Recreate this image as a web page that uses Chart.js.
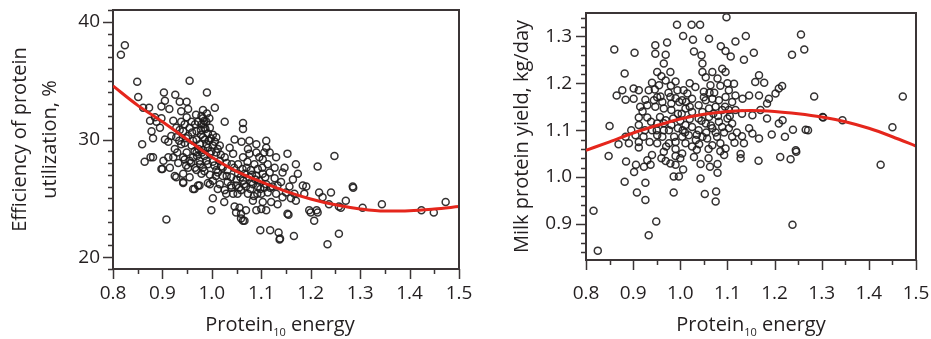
<!DOCTYPE html>
<html>
<head>
<meta charset="utf-8">
<script src="https://cdn.jsdelivr.net/npm/chart.js@4.4.1/dist/chart.umd.min.js"></script>
<style>
  html, body { margin: 0; padding: 0; background: #fff; }
  #wrap { position: relative; width: 931px; height: 339px; overflow: hidden; }
  canvas { position: absolute; top: 0; }
  #effCanvas { left: 0; }
  #yieldCanvas { left: 470px; }
</style>
</head>
<body>
<div id="wrap">
  <canvas id="effCanvas" width="480" height="339"></canvas>
  <canvas id="yieldCanvas" width="461" height="339"></canvas>
</div>
<script>
// ---- Tick values ----
const xTicks = [0.8, 0.9, 1.0, 1.1, 1.2, 1.3, 1.4, 1.5];
const effTicks = [20, 30, 40];
const yieldTicks = [0.9, 1.0, 1.1, 1.2, 1.3];

// ---- Efficiency of protein utilization (%) vs Protein10 energy ----
const effX = [
  0.824, 0.816, 0.849, 0.955, 0.851, 0.903, 0.926, 0.990, 1.006, 0.905,
  0.949, 0.935, 0.861, 0.873, 0.898, 0.914, 0.885, 0.898, 0.922, 0.938,
  0.949, 0.982, 0.985, 1.026, 1.063, 1.063, 0.878, 0.881, 0.859, 0.905,
  0.918, 0.928, 0.942, 0.952, 0.969, 0.979, 0.979, 0.989, 0.996, 1.002,
  0.969, 0.959, 0.938, 0.925, 0.922, 0.912, 0.902, 0.881, 0.864, 0.898,
  0.925, 0.942, 0.942, 0.952, 0.955, 0.966, 0.975, 0.982, 0.979, 0.972,
  0.962, 0.996, 1.009, 1.022, 1.016, 1.032, 0.996, 0.999, 0.908, 1.043,
  1.036, 1.046, 1.060, 1.076, 1.090, 1.110, 1.110, 1.090, 1.076, 1.063,
  1.053, 1.070, 1.086, 1.103, 1.113, 1.130, 1.127, 1.117, 1.103, 1.090,
  1.076, 1.063, 1.049, 1.059, 1.069, 1.093, 1.110, 1.123, 1.140, 1.143,
  1.147, 1.153, 1.170, 1.174, 1.164, 1.157, 1.160, 1.143, 1.130, 1.113,
  1.100, 1.120, 1.133, 1.110, 1.090, 1.100, 1.069, 1.046, 1.059, 1.063,
  1.049, 1.059, 1.153, 1.167, 1.184, 1.191, 1.187, 1.214, 1.248, 1.217,
  1.241, 1.224, 1.271, 1.285, 1.257, 1.237, 1.197, 1.214, 1.207, 1.257,
  1.234, 1.166, 1.098, 1.118, 1.135, 1.138, 1.002, 1.029, 1.043, 1.025,
  0.982, 0.985, 0.992, 0.982, 0.976, 0.989, 1.002, 1.009, 0.996, 0.982,
  0.969, 0.962, 0.989, 1.002, 1.016, 1.022, 1.026, 1.009, 1.016, 0.969,
  0.955, 1.032, 1.039, 1.002, 1.012, 1.026, 1.039, 1.053, 1.066, 1.079,
  1.093, 1.096, 1.083, 1.073, 1.083, 1.103, 1.133, 1.150, 1.170, 1.106,
  1.096, 1.117, 1.073, 0.942, 0.949, 0.932, 0.915, 0.912, 0.928, 0.895,
  0.888, 0.875, 0.959, 0.955, 0.966, 0.938, 0.945, 0.972, 1.286, 1.305,
  1.344, 1.424, 1.449, 1.473, 1.261, 0.876, 0.900, 0.928, 0.942, 0.965,
  0.975, 0.992, 1.200, 1.212, 1.137, 1.155, 1.056, 1.066, 0.978, 0.986,
  0.994, 0.973, 0.999, 1.005, 0.985, 1.012, 1.040, 1.058, 1.080, 1.098,
  1.118, 1.127, 1.085, 1.052, 0.962, 0.945, 0.935, 0.952, 0.968, 0.976,
  0.983, 0.990, 0.995, 0.987, 0.978, 0.998, 1.006, 0.992, 0.980, 1.012,
  1.018, 0.970, 0.958, 0.948, 0.985, 0.992, 1.008, 1.019, 1.030, 1.045,
  1.050, 1.062, 1.072, 1.081, 1.088, 1.102, 1.108, 1.065, 1.055, 1.078,
  1.092, 1.106, 1.040, 1.030, 0.960, 0.948, 0.934, 0.930, 0.945, 0.965
];
const effY = [
  38.0, 37.2, 34.9, 35.0, 33.6, 34.0, 33.8, 34.0, 32.7, 33.3,
  33.2, 33.2, 32.7, 32.7, 32.8, 32.6, 31.9, 31.8, 31.6, 32.4,
  31.9, 32.5, 31.6, 31.5, 31.4, 30.9, 30.7, 30.1, 29.6, 30.0,
  30.3, 31.0, 30.7, 30.3, 30.7, 31.3, 32.0, 31.5, 31.0, 30.4,
  30.0, 29.5, 29.6, 29.2, 28.5, 28.5, 28.2, 28.5, 28.1, 27.5,
  26.9, 27.1, 26.3, 27.6, 28.2, 27.6, 28.2, 27.6, 27.1, 26.1,
  25.8, 27.0, 27.4, 26.9, 26.2, 26.4, 26.2, 24.0, 23.2, 28.8,
  29.3, 30.0, 29.8, 29.9, 29.6, 29.9, 29.3, 28.9, 28.8, 28.5,
  27.9, 27.6, 27.9, 28.3, 27.9, 28.5, 27.6, 27.2, 27.1, 26.9,
  26.8, 26.5, 26.1, 25.7, 26.0, 26.0, 26.2, 26.0, 26.4, 27.2,
  27.6, 28.8, 27.9, 27.1, 26.6, 26.0, 25.0, 25.1, 25.4, 25.5,
  25.4, 24.7, 24.5, 24.0, 24.0, 24.1, 24.0, 24.3, 23.7, 23.1,
  23.8, 23.3, 23.7, 25.4, 26.1, 26.0, 25.4, 27.7, 28.6, 25.5,
  25.5, 25.1, 24.8, 26.0, 24.3, 24.5, 24.0, 23.8, 23.1, 22.0,
  21.1, 21.8, 22.3, 22.3, 22.1, 21.6, 25.0, 25.4, 25.4, 24.7,
  31.8, 31.0, 30.5, 30.2, 29.6, 29.6, 29.5, 28.9, 28.8, 29.1,
  28.9, 28.5, 28.2, 28.1, 28.2, 27.6, 28.5, 30.2, 29.5, 27.4,
  26.8, 27.4, 26.8, 26.5, 25.8, 25.7, 26.1, 27.1, 27.1, 27.4,
  27.5, 26.5, 26.2, 25.4, 24.8, 24.7, 26.1, 25.5, 24.8, 28.9,
  28.5, 28.9, 29.2, 28.5, 28.9, 28.0, 27.6, 29.8, 30.2, 31.0,
  31.5, 31.6, 31.5, 31.0, 31.3, 31.5, 31.3, 31.5, 25.9, 24.2,
  24.5, 24.0, 23.8, 24.7, 24.2, 28.5, 27.5, 26.8, 26.4, 25.8,
  26.1, 26.3, 23.8, 24.0, 21.5, 23.6, 24.2, 23.1, 30.8, 30.0,
  29.9, 29.2, 29.0, 27.8, 28.6, 27.2, 27.9, 26.8, 26.4, 25.8,
  25.9, 26.7, 25.2, 25.4, 29.9, 29.7, 30.8, 32.6, 32.1, 27.9,
  31.3, 32.2, 31.8, 30.9, 30.4, 30.1, 29.8, 29.3, 28.9, 29.2,
  28.7, 28.6, 28.0, 27.8, 27.3, 27.9, 26.9, 27.7, 28.0, 27.6,
  26.6, 27.5, 28.1, 27.0, 26.6, 27.6, 26.8, 26.2, 25.9, 25.8,
  25.4, 25.9, 25.9, 26.9, 30.6, 30.1, 29.9, 28.9, 28.3, 29.0
];
// Fitted response, sampled along the red curve
const effFitX = [0.80, 0.85, 0.90, 0.95, 1.00, 1.05, 1.10, 1.15, 1.20, 1.25, 1.30, 1.35, 1.40, 1.45, 1.50];
const effFitY = [34.55, 32.9, 31.5, 30.0, 28.5, 27.3, 26.4, 25.6, 24.95, 24.45, 24.1, 23.92, 23.95, 24.1, 24.3];

// ---- Milk protein yield (kg/day) vs Protein10 energy ----
const yieldX = [
  1.098, 0.993, 1.024, 1.042, 1.006, 1.027, 1.061, 1.139, 1.117, 1.086,
  1.096, 1.107, 1.156, 1.135, 1.256, 1.263, 1.237, 0.860, 0.903, 0.947,
  0.947, 0.972, 0.969, 1.029, 1.045, 1.047, 0.965, 0.951, 0.882, 0.979,
  0.990, 0.969, 0.940, 0.933, 0.877, 0.865, 0.901, 0.884, 0.926, 0.951,
  0.979, 1.007, 1.004, 1.025, 1.047, 1.054, 1.068, 1.079, 1.064, 1.050,
  1.089, 1.096, 1.114, 1.103, 1.117, 1.132, 1.167, 1.178, 1.159, 1.146,
  1.167, 1.188, 1.202, 1.209, 1.216, 1.284, 1.302, 1.266, 1.239, 1.217,
  1.209, 1.184, 1.222, 1.194, 1.245, 1.234, 1.212, 1.166, 1.135, 1.131,
  1.146, 1.153, 1.167, 1.128, 1.128, 1.110, 1.103, 1.089, 1.082, 1.068,
  1.054, 1.078, 1.085, 1.096, 1.093, 1.068, 1.057, 1.047, 1.033, 1.025,
  1.029, 1.043, 1.063, 1.079, 1.079, 1.076, 1.075, 1.043, 1.052, 1.006,
  0.997, 0.986, 0.986, 0.990, 0.979, 0.969, 0.965, 0.990, 1.004, 1.011,
  1.004, 0.990, 0.976, 0.962, 0.951, 0.940, 0.930, 0.937, 0.923, 0.906,
  0.902, 0.885, 0.882, 0.926, 0.908, 0.926, 0.949, 0.933, 0.816, 0.848,
  0.850, 0.869, 0.896, 0.912, 0.912, 0.912, 0.930, 0.905, 0.922, 0.940,
  0.951, 0.969, 0.981, 0.995, 1.011, 1.025, 1.039, 1.061, 0.981, 0.995,
  1.011, 1.025, 0.965, 0.947, 0.930, 0.944, 0.962, 0.981, 1.039, 1.054,
  1.068, 1.082, 1.096, 1.110, 1.117, 1.103, 1.089, 1.075, 1.061, 1.047,
  1.100, 1.110, 1.131, 1.153, 1.170, 1.184, 0.884, 0.891, 0.912, 0.976,
  0.987, 1.018, 0.965, 0.951, 1.039, 1.015, 1.032, 0.994, 0.912, 0.901,
  0.946, 0.955, 1.472, 1.450, 1.425, 1.344, 1.303, 1.271, 1.238, 0.825,
  1.246, 1.000, 1.020, 0.957, 1.070, 1.093, 1.115, 1.060, 1.005, 0.975,
  1.062, 0.920, 0.938, 1.035, 0.998, 0.965, 0.985, 1.003, 1.020, 1.045,
  1.065, 1.080, 1.095, 1.075, 1.055, 1.035, 1.010, 0.990, 0.970, 0.950,
  0.935, 0.925, 0.915, 0.958, 0.990, 1.012, 1.050, 1.072, 1.105, 1.120,
  1.085, 1.060, 1.040, 1.000, 0.960, 1.100, 1.085, 0.980, 0.960, 1.020
];
const yieldY = [
  1.341, 1.325, 1.325, 1.325, 1.301, 1.293, 1.295, 1.301, 1.289, 1.279,
  1.269, 1.257, 1.265, 1.250, 1.304, 1.272, 1.261, 1.272, 1.265, 1.281,
  1.263, 1.287, 1.261, 1.268, 1.260, 1.242, 1.242, 1.224, 1.221, 1.224,
  1.204, 1.206, 1.201, 1.185, 1.185, 1.174, 1.167, 1.165, 1.165, 1.170,
  1.171, 1.185, 1.164, 1.167, 1.224, 1.213, 1.224, 1.210, 1.196, 1.182,
  1.231, 1.224, 1.199, 1.185, 1.174, 1.167, 1.217, 1.201, 1.203, 1.174,
  1.174, 1.167, 1.178, 1.189, 1.194, 1.172, 1.128, 1.101, 1.101, 1.121,
  1.114, 1.125, 1.086, 1.091, 1.057, 1.038, 1.043, 1.035, 1.072, 1.087,
  1.104, 1.093, 1.082, 1.049, 1.040, 1.086, 1.104, 1.107, 1.118, 1.104,
  1.114, 1.086, 1.072, 1.061, 1.047, 1.068, 1.082, 1.086, 1.079, 1.065,
  1.043, 1.028, 1.022, 1.028, 1.009, 0.969, 0.948, 0.997, 0.964, 1.016,
  1.001, 1.001, 0.967, 1.026, 1.029, 1.034, 1.054, 1.045, 1.050, 1.072,
  1.086, 1.075, 1.072, 1.086, 1.072, 1.047, 1.036, 1.026, 1.022, 1.026,
  1.011, 1.033, 0.990, 0.988, 0.967, 0.951, 0.905, 0.876, 0.928, 1.045,
  1.109, 1.070, 1.100, 1.127, 1.111, 1.063, 1.127, 1.089, 1.086, 1.100,
  1.114, 1.121, 1.111, 1.104, 1.111, 1.107, 1.125, 1.128, 1.143, 1.135,
  1.146, 1.139, 1.146, 1.150, 1.153, 1.164, 1.160, 1.157, 1.153, 1.164,
  1.167, 1.164, 1.171, 1.160, 1.143, 1.143, 1.143, 1.150, 1.146, 1.139,
  1.125, 1.114, 1.135, 1.132, 1.143, 1.157, 1.086, 1.072, 1.075, 1.100,
  1.086, 1.089, 1.100, 1.089, 1.100, 1.178, 1.192, 1.185, 1.185, 1.189,
  1.187, 1.196, 1.172, 1.106, 1.026, 1.121, 1.127, 1.100, 0.898, 0.843,
  1.054, 1.120, 1.124, 1.128, 1.135, 1.095, 1.073, 1.060, 1.100, 1.180,
  1.180, 1.140, 1.118, 1.058, 1.160, 1.115, 1.125, 1.135, 1.150, 1.120,
  1.110, 1.130, 1.150, 1.095, 1.095, 1.090, 1.095, 1.060, 1.065, 1.100,
  1.075, 1.100, 1.150, 1.172, 1.168, 1.160, 1.170, 1.180, 1.130, 1.095,
  1.055, 1.040, 1.070, 1.040, 1.040, 1.200, 1.195, 1.195, 1.215, 1.200
];
const yieldFitX = [0.80, 0.85, 0.90, 0.95, 1.00, 1.05, 1.10, 1.15, 1.20, 1.25, 1.30, 1.35, 1.40, 1.45, 1.50];
const yieldFitY = [1.057, 1.075, 1.094, 1.110, 1.124, 1.134, 1.140, 1.142, 1.140, 1.135, 1.128, 1.118, 1.104, 1.086, 1.066];

// ---- Shared styling ----
const FONT = '"Open Sans", "Noto Sans", sans-serif';
const TEXT = '#231f20';
const AXIS = '#3b3536';
const POINT = 'rgba(30,28,28,0.9)';
const FIT = '#e5261c';

const pairs = (xs, ys) => xs.map((x, i) => ({ x, y: ys[i] }));

// Frame, tick marks and the subscripted x-axis title
const panelDecor = {
  id: 'panelDecor',
  afterDraw(chart, args, o) {
    const { ctx, chartArea: a } = chart;
    const xs = chart.scales.x, ys = chart.scales.y;
    ctx.save();
    ctx.strokeStyle = AXIS;
    ctx.lineWidth = 2;
    ctx.beginPath();
    ctx.moveTo(a.left, a.top);
    ctx.lineTo(a.right, a.top);
    ctx.lineTo(a.right, a.bottom);
    ctx.stroke();

    ctx.lineWidth = 1.5;
    ctx.beginPath();
    const xTick = (v, len) => {
      const p = Math.round(xs.getPixelForValue(v)) + 0.5;
      ctx.moveTo(p, a.bottom); ctx.lineTo(p, a.bottom + len);
    };
    const yTick = (v, len) => {
      const p = Math.round(ys.getPixelForValue(v)) + 0.5;
      ctx.moveTo(a.left, p); ctx.lineTo(a.left - len, p);
    };
    const minors = (scale, step) => {
      const out = [];
      for (let n = Math.ceil(scale.min / step - 1e-6); n * step <= scale.max + 1e-9; n++) out.push(n * step);
      return out;
    };
    minors(xs, o.xMinor).forEach(v => xTick(v, 5));
    minors(ys, o.yMinor).forEach(v => yTick(v, 5));
    o.xMajor.forEach(v => xTick(v, 10));
    o.yMajor.forEach(v => yTick(v, 10));
    ctx.stroke();

    // "Protein10 energy" with the 10 set as a subscript
    const big = '20px ' + FONT, small = '11px ' + FONT;
    ctx.fillStyle = TEXT;
    ctx.textBaseline = 'alphabetic';
    ctx.textAlign = 'left';
    ctx.font = big;
    const w1 = ctx.measureText('Protein').width;
    const w3 = ctx.measureText(' energy').width;
    ctx.font = small;
    const w2 = ctx.measureText('10').width;
    let x = (a.left + a.right) / 2 + o.titleShift - (w1 + w2 + w3) / 2;
    const base = o.titleBaseline;
    ctx.font = big; ctx.fillText('Protein', x, base); x += w1;
    ctx.font = small; ctx.fillText('10', x, base + 5); x += w2;
    ctx.font = big; ctx.fillText(' energy', x, base);
    ctx.restore();
  }
};

function makeChart(id, cfg) {
  return new Chart(document.getElementById(id), {
    type: 'scatter',
    data: {
      datasets: [
        {
          type: 'line',
          data: pairs(cfg.fitX, cfg.fitY),
          borderColor: FIT,
          borderWidth: 3,
          pointRadius: 0,
          cubicInterpolationMode: 'monotone',
          fill: false
        },
        {
          data: pairs(cfg.px, cfg.py),
          pointStyle: 'circle',
          pointRadius: 3.5,
          pointBorderWidth: 1.5,
          borderColor: POINT,
          backgroundColor: 'rgba(0,0,0,0)',
          showLine: false
        }
      ]
    },
    options: {
      responsive: false,
      animation: false,
      events: [],
      layout: { padding: cfg.pad },
      plugins: {
        legend: { display: false },
        tooltip: { enabled: false },
        panelDecor: {
          xMinor: 0.05, yMinor: cfg.yMinor,
          xMajor: xTicks, yMajor: cfg.yTicks,
          titleShift: cfg.titleShift, titleBaseline: cfg.titleBaseline
        }
      },
      scales: {
        x: {
          type: 'linear', min: 0.8, max: 1.5,
          afterBuildTicks: s => { s.ticks = xTicks.map(v => ({ value: v })); },
          afterFit: s => { s.height = cfg.xHeight; s.paddingLeft = 0; s.paddingRight = 0; },
          ticks: {
            callback: v => Number(v).toFixed(1),
            font: { family: FONT, size: 19 }, color: TEXT,
            padding: cfg.xPad, maxRotation: 0, autoSkip: false
          },
          grid: { display: true, drawOnChartArea: false, drawTicks: false },
          border: { color: AXIS, width: 2 }
        },
        y: {
          type: 'linear', min: cfg.yMin, max: cfg.yMax,
          afterBuildTicks: s => { s.ticks = cfg.yTicks.map(v => ({ value: v })); },
          afterFit: s => { s.width = cfg.yWidth; s.paddingTop = 0; s.paddingBottom = 0; },
          ticks: {
            callback: cfg.yFmt,
            font: { family: FONT, size: 19 }, color: TEXT,
            padding: cfg.yPad, autoSkip: false
          },
          grid: { display: true, drawOnChartArea: false, drawTicks: false },
          border: { color: AXIS, width: 2 },
          title: {
            display: true, text: cfg.yTitle, color: TEXT,
            font: { family: FONT, size: 20, lineHeight: cfg.titleLH },
            padding: { top: cfg.yTitlePad, bottom: 0 }
          }
        }
      }
    },
    plugins: [panelDecor]
  });
}

makeChart('effCanvas', {
  px: effX, py: effY, fitX: effFitX, fitY: effFitY,
  yMin: 19, yMax: 41, yTicks: effTicks, yMinor: 1,
  yFmt: v => String(v),
  yTitle: ['Efficiency of protein', 'utilization, %'], titleLH: 1.5, yTitlePad: 5,
  pad: { top: 10, right: 21, bottom: 0, left: 0 },
  yWidth: 113, xHeight: 70, xPad: 13, yPad: 13,
  titleShift: -6, titleBaseline: 331
});

makeChart('yieldCanvas', {
  px: yieldX, py: yieldY, fitX: yieldFitX, fitY: yieldFitY,
  yMin: 0.823, yMax: 1.35, yTicks: yieldTicks, yMinor: 0.02,
  yFmt: v => Number(v).toFixed(1),
  yTitle: 'Milk protein yield, kg/day', titleLH: 1.2, yTitlePad: 40,
  pad: { top: 13, right: 15, bottom: 0, left: 0 },
  yWidth: 116, xHeight: 79, xPad: 22, yPad: 14,
  titleShift: 0, titleBaseline: 331
});
</script>
</body>
</html>
